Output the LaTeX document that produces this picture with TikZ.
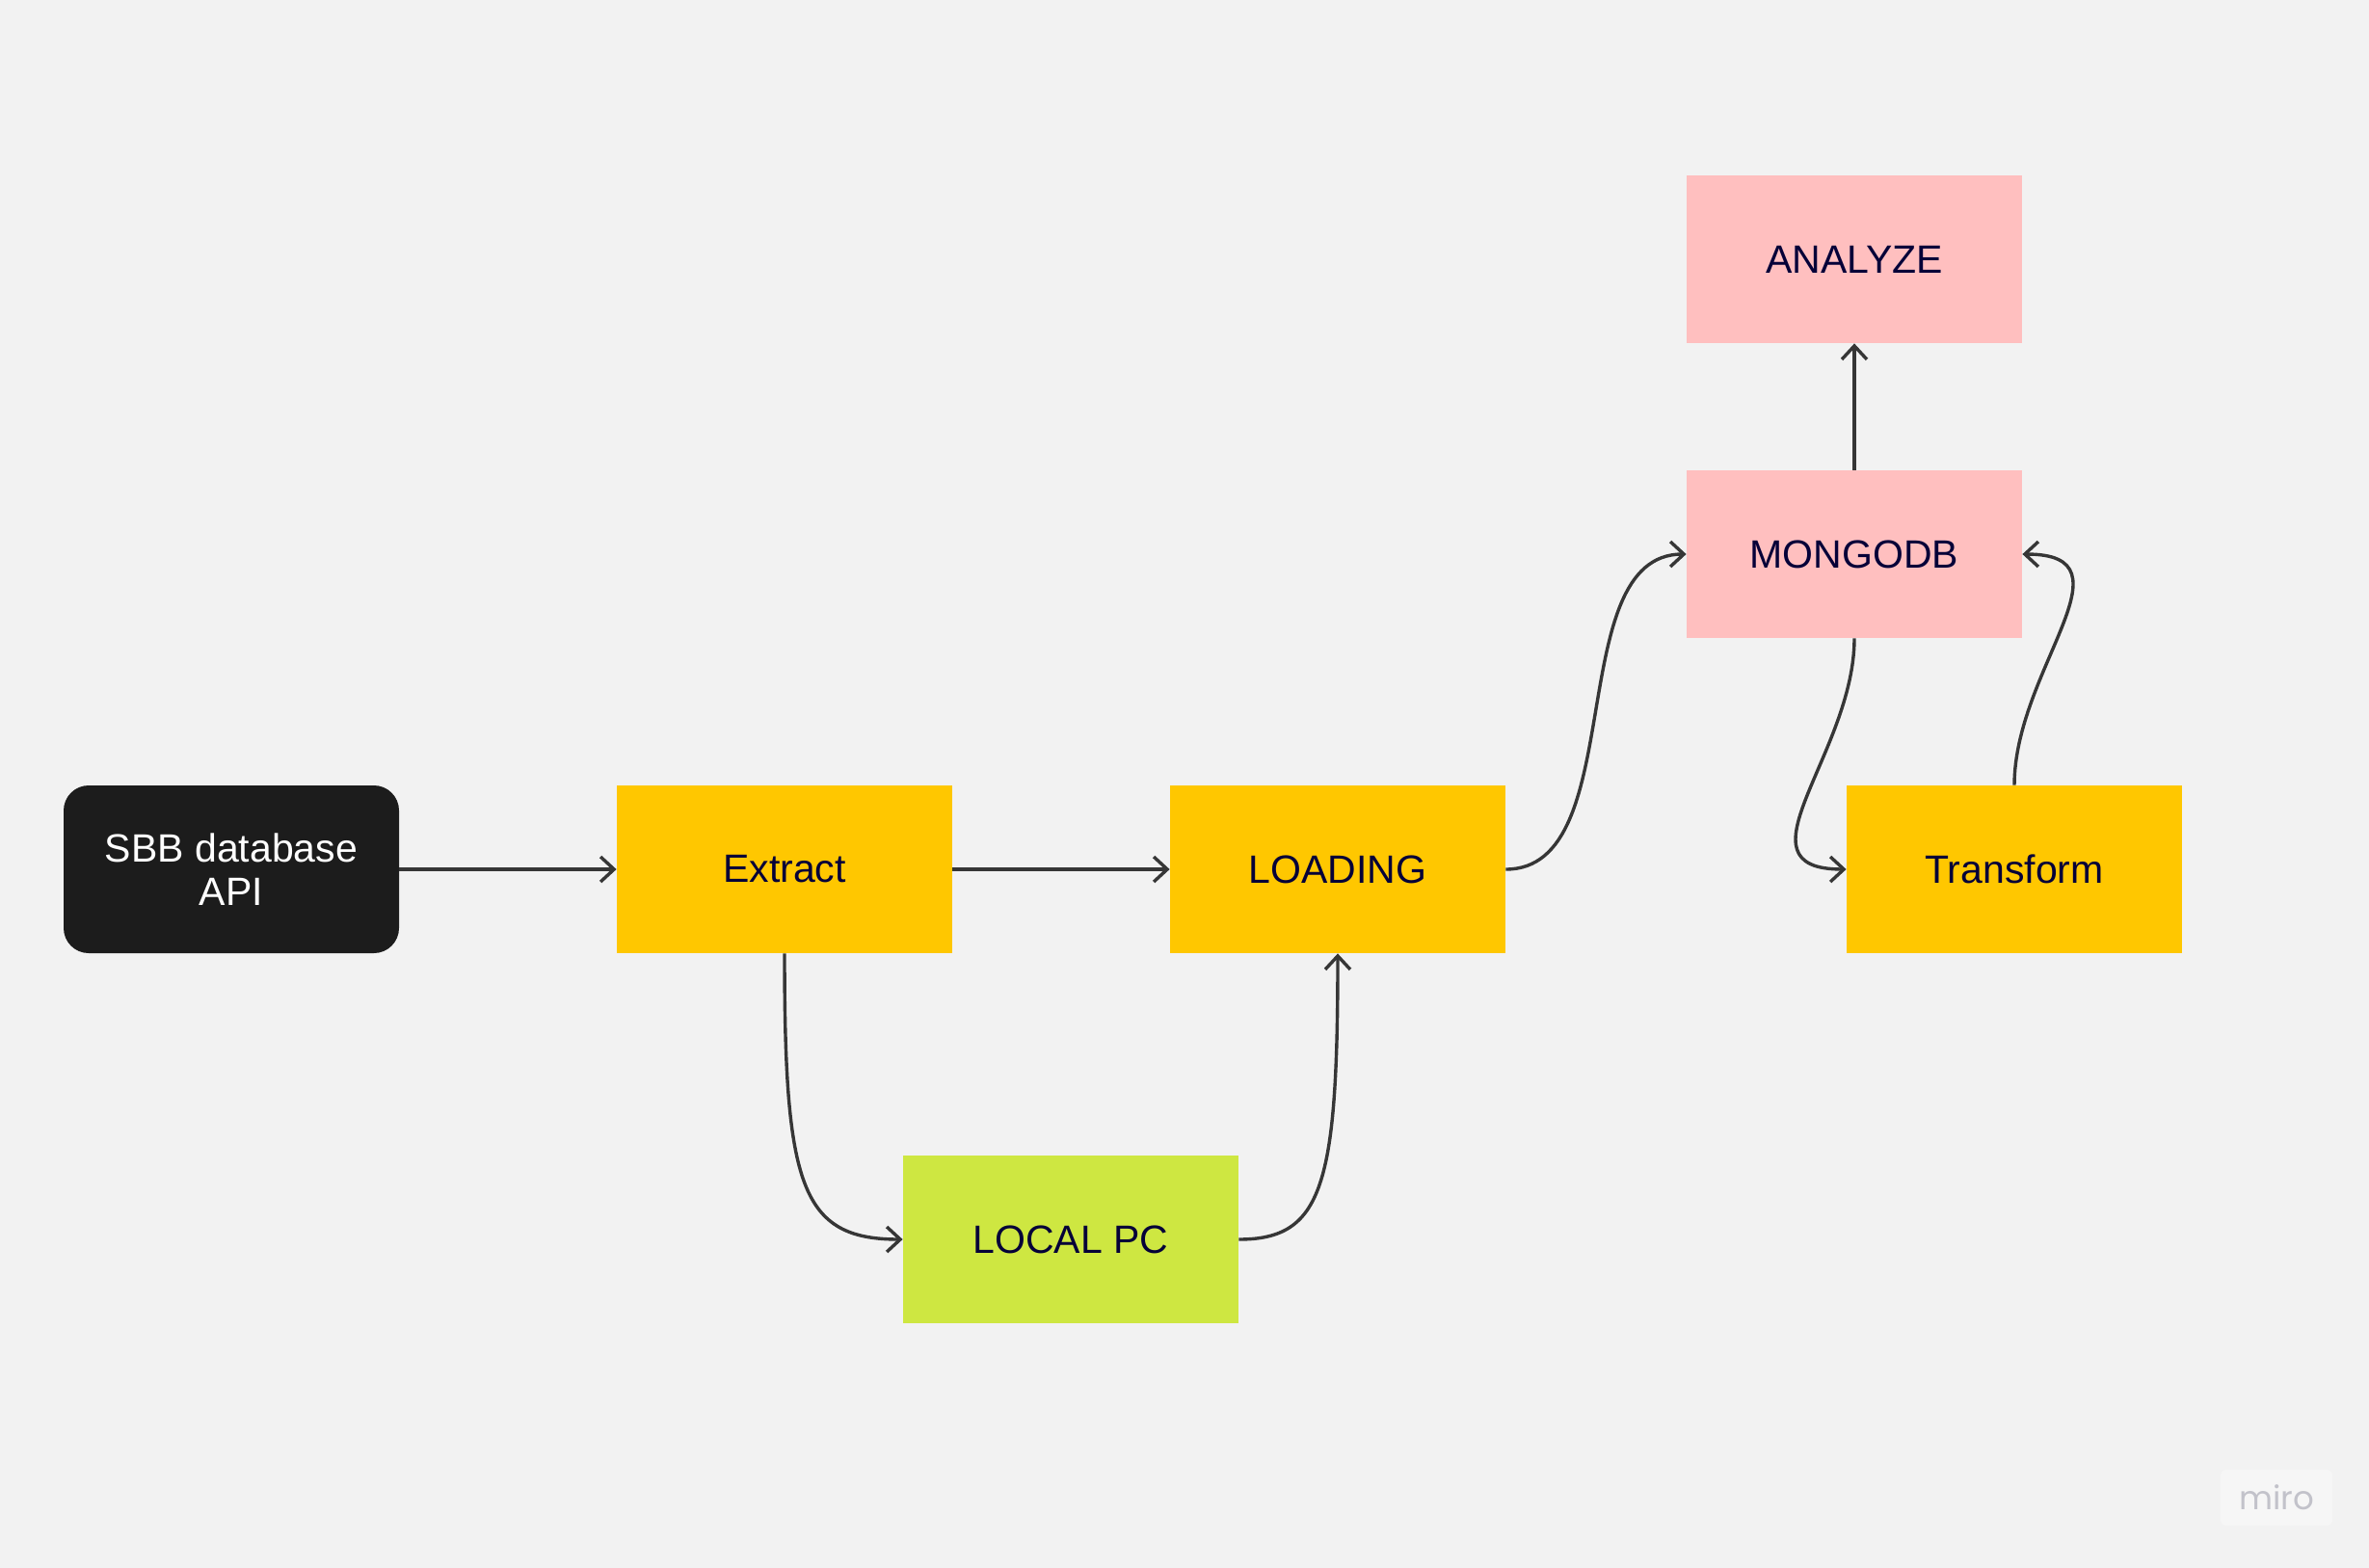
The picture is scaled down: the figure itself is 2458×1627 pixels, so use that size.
\documentclass[tikz,border=0pt]{standalone}
\usepackage{fontspec}
\setmainfont{Liberation Sans}
\newfontfamily\mirofont{Poppins}
\usetikzlibrary{arrows.meta}
\definecolor{bg}{HTML}{F2F2F2}
\definecolor{apiblack}{HTML}{1C1C1C}
\definecolor{stepyellow}{HTML}{FFC700}
\definecolor{dbpink}{HTML}{FFBFBF}
\definecolor{pcgreen}{HTML}{CEE741}
\definecolor{navytext}{HTML}{050038}
\definecolor{linegray}{HTML}{363636}
\definecolor{mirogray}{HTML}{C2C2CA}
\definecolor{mirobox}{HTML}{F6F6F6}
\tikzset{
  box/.style={rectangle, minimum width=174pt, minimum height=87pt, inner sep=0pt,
    align=center, text=navytext, font=\fontsize{20.5}{22.7}\selectfont},
  apibox/.style={box, fill=apiblack, text=white, rounded corners=13pt},
  yellowbox/.style={box, fill=stepyellow},
  pinkbox/.style={box, fill=dbpink},
  greenbox/.style={box, fill=pcgreen},
  flow/.style={draw=linegray, line width=1.7pt,
    -{Straight Barb[length=7pt,width=13pt,line width=1.7pt]}},
}
\begin{document}
\begin{tikzpicture}[x=0.5pt,y=-0.5pt]
\fill[bg] (0,0) rectangle (2458,1627);
\useasboundingbox (0,0) rectangle (2458,1627);

\node[apibox] (sbb) at (240,902) {SBB database\\API};
\node[yellowbox] (extract) at (814,902) {Extract};
\node[yellowbox] (loading) at (1388,902) {LOADING};
\node[yellowbox] (transform) at (2090,902) {Transform};
\node[greenbox] (localpc) at (1111,1286) {LOCAL PC};
\node[pinkbox] (mongo) at (1924,575) {MONGODB};
\node[pinkbox] (analyze) at (1924,269) {ANALYZE};

\node[rectangle, rounded corners=3pt, fill=mirobox, minimum width=58pt, minimum height=29pt,
  inner sep=0pt, text=mirogray, font=\mirofont\fontsize{17}{17}\selectfont] (miro) at (2362,1554) {miro};

\draw[flow] (sbb.east) -- (extract.west);
\draw[flow] (extract.east) -- (loading.west);
\draw[flow] (extract.south) .. controls +(0,241) and +(-106,0) .. (localpc.west);
\draw[flow] (localpc.east) .. controls +(87,0) and +(0,241) .. (loading.south);
\draw[flow] (loading.east) .. controls +(130,0) and +(-130,0) .. (mongo.west);
\draw[flow] (mongo.south) .. controls +(0,120) and +(-120,0) .. (transform.west);
\draw[flow] (transform.north) .. controls +(0,-120) and +(120,0) .. (mongo.east);
\draw[flow] (mongo.north) -- (analyze.south);
\end{tikzpicture}
\end{document}
